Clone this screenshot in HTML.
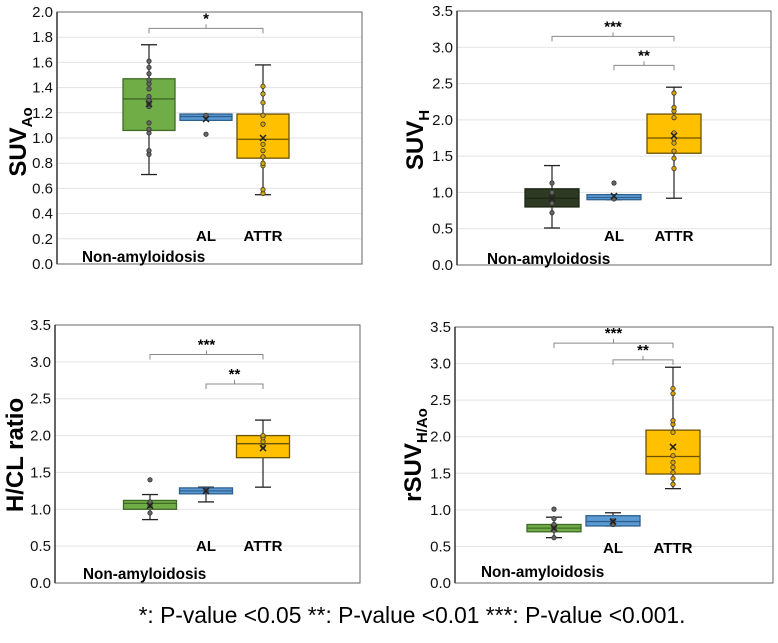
<!DOCTYPE html>
<html><head><meta charset="utf-8"><style>
body{margin:0;background:#fff;}
svg text{font-family:"Liberation Sans",Arial,sans-serif;}
</style></head><body>
<svg id="s" width="778" height="638" viewBox="0 0 778 638">
<text x="412" y="623" font-size="22.8" text-anchor="middle" fill="#000">*: P-value &lt;0.05 **: P-value &lt;0.01 ***: P-value &lt;0.001.</text>
</svg>
<script>
// ---- data ----
const groups = ["Non-amyloidosis","AL","ATTR"];
const p1Stats = [[0.71,1.06,1.31,1.47,1.74,1.27],[1.14,1.14,1.17,1.19,1.19,1.15],[0.55,0.84,0.99,1.19,1.58,1.0]];
const p1Points = [[0.87,0.90,1.04,1.07,1.12,1.25,1.27,1.30,1.33,1.39,1.43,1.46,1.51,1.56,1.61],[1.03,1.18],[0.56,0.59,0.78,0.80,0.85,0.90,0.95,1.11,1.18,1.28,1.35,1.41]];
const p2Stats = [[0.51,0.80,0.92,1.05,1.37,0.92],[0.90,0.90,0.93,0.97,0.97,0.95],[0.92,1.54,1.75,2.08,2.45,1.78]];
const p2Points = [[0.72,0.85,1.0,1.13],[1.13,0.91],[1.33,1.47,1.57,1.68,1.74,1.82,2.03,2.12,2.17,2.37]];
const p3Stats = [[0.86,1.00,1.08,1.12,1.20,1.05],[1.10,1.21,1.25,1.29,1.30,1.25],[1.30,1.70,1.89,2.00,2.21,1.83]];
const p3Points = [[1.40,0.95,1.05,1.10],[1.25],[1.85,1.92,1.97,2.0]];
const p4Stats = [[0.62,0.70,0.75,0.80,0.90,0.75],[0.78,0.78,0.84,0.92,0.96,0.84],[1.29,1.49,1.73,2.09,2.95,1.86]];
const p4Points = [[0.62,0.72,0.76,0.80,0.88,1.01],[0.80,0.85],[1.35,1.43,1.51,1.58,1.65,1.74,2.06,2.17,2.22,2.59,2.66]];
const yTicks1 = ["0.0","0.2","0.4","0.6","0.8","1.0","1.2","1.4","1.6","1.8","2.0"];
const yTicks2 = ["0.0","0.5","1.0","1.5","2.0","2.5","3.0","3.5"];
const brackets1 = [[0,2,1.87,"*"]];
const brackets2 = [[0,2,3.15,"***"],[1,2,2.75,"**"]];
const brackets3 = [[0,2,3.10,"***"],[1,2,2.70,"**"]];
const brackets4 = [[0,2,3.28,"***"],[1,2,3.05,"**"]];

const NS="http://www.w3.org/2000/svg";
const svg=document.getElementById('s');
function mk(tag,attrs,parent,txt){const e=document.createElementNS(NS,tag);for(const k in attrs)e.setAttribute(k,attrs[k]);if(txt!==undefined)e.textContent=txt;(parent||svg).appendChild(e);return e;}
const fills=[["#70ad47","#3f6a27"],["#5b9bd5","#2f5f8e"],["#ffc000","#6b5200"]];

function panel(id,cfg){
  const g=mk('g',{});
  
  
  const {x0,x1,yTop,yBot,max,ticks,stats,points,centers,bw,brackets,title,sub,tx,ty,lab,dark}=cfg;
  const y=v=>yBot-(v/max)*(yBot-yTop);
  ticks.forEach(t=>{const v=parseFloat(t);
    if(v>0&&v<max){const gl=mk('line',{x1:x0,x2:x1,y1:y(v),y2:y(v),stroke:'#e3e3e3','stroke-width':1},g);}
    const tl=mk('text',{x:x0-4,y:y(v)+5,'font-size':15,'text-anchor':'end',fill:'#111'},g,t);
    });
  const fr=mk('rect',{x:x0,y:yTop,width:x1-x0,height:yBot-yTop,fill:'none',stroke:'#666','stroke-width':1},g);
  
  const ax=mk('line',{x1:x0,x2:x0,y1:yTop,y2:yBot,stroke:'#333','stroke-width':1.5},g);
  
  stats.forEach((s,i)=>{
    const c=centers[i];let [f,st]=fills[i];if(i===0&&dark){f='#2e3a23';st='#1d2616';}
    const bg=mk('g',{},g);
    mk('line',{x1:c,x2:c,y1:y(s[0]),y2:y(s[4]),stroke:'#222','stroke-width':1.2},bg);
    [s[0],s[4]].forEach(v=>mk('line',{x1:c-8,x2:c+8,y1:y(v),y2:y(v),stroke:'#222','stroke-width':1.3},bg));
    mk('rect',{x:c-bw/2,y:y(s[3]),width:bw,height:Math.max(1,y(s[1])-y(s[3])),fill:f,stroke:st,'stroke-width':1.3},bg);
    mk('line',{x1:c-bw/2,x2:c+bw/2,y1:y(s[2]),y2:y(s[2]),stroke:st,'stroke-width':1.3},bg);
    points[i].forEach(v=>{const d=mk('circle',{cx:c,cy:y(v),r:2.2,fill:i===2?'#d9a400':'#666',stroke:'#333','stroke-width':0.8},bg);});
    const m=y(s[5]);
    mk('path',{d:`M${c-3} ${m-3}L${c+3} ${m+3}M${c+3} ${m-3}L${c-3} ${m+3}`,stroke:'#222','stroke-width':1.5},bg);
  });
  brackets.forEach(b=>{const a=centers[b[0]],e=centers[b[1]],yy=y(b[2]),m=(a+e)/2;
    const bk=mk('path',{d:`M${a} ${yy+5}V${yy}H${e}V${yy+5}M${m} ${yy}V${yy-4}`,fill:'none',stroke:'#888','stroke-width':1},g);
    
    const sl=mk('text',{x:m,y:yy-5,'font-size':15,'font-weight':'bold','text-anchor':'middle'},g,b[3]);
    });
  const t=mk('text',{x:0,y:0,'font-size':24,'font-weight':'bold','text-anchor':'middle',transform:`translate(${tx},${ty}) rotate(-90)`},g);
  
  mk('tspan',{},t,title);
  if(sub)mk('tspan',{'font-size':15,dy:6},t,sub);
  const [alY,nX,nY]=lab;
  const l1=mk('text',{x:centers[1],y:alY,'font-size':15,'font-weight':'bold','text-anchor':'middle'},g,'AL');
  
  const l2=mk('text',{x:centers[2],y:alY,'font-size':15,'font-weight':'bold','text-anchor':'middle'},g,'ATTR');
  
  const l3=mk('text',{x:nX,y:nY,'font-size':15.3,'font-weight':'bold'},g,'Non-amyloidosis');
  
}
panel('panel-suv-ao',{x0:57,x1:362,yTop:12,yBot:264,max:2.0,ticks:yTicks1,stats:p1Stats,points:p1Points,centers:[149,206,263],bw:52,brackets:brackets1,title:'SUV',sub:'Ao',tx:26,ty:142,lab:[241,82,262]});
panel('panel-suv-h',{x0:457,x1:771,yTop:11,yBot:265,max:3.5,ticks:yTicks2,stats:p2Stats,points:p2Points,centers:[552,614,674],bw:54,brackets:brackets2,title:'SUV',sub:'H',tx:423,ty:140,lab:[241,487,264],dark:true});
panel('panel-hcl-ratio',{x0:55,x1:360,yTop:325,yBot:583,max:3.5,ticks:yTicks2,stats:p3Stats,points:p3Points,centers:[150,206,263],bw:53,brackets:brackets3,title:'H/CL ratio',sub:'',tx:23,ty:455,lab:[551,83,579]});
panel('panel-rsuv',{x0:455,x1:773,yTop:327,yBot:583,max:3.5,ticks:yTicks2,stats:p4Stats,points:p4Points,centers:[554,613,673],bw:54,brackets:brackets4,title:'rSUV',sub:'H/Ao',tx:421,ty:455,lab:[553,481,577]});
</script>
</body></html>
